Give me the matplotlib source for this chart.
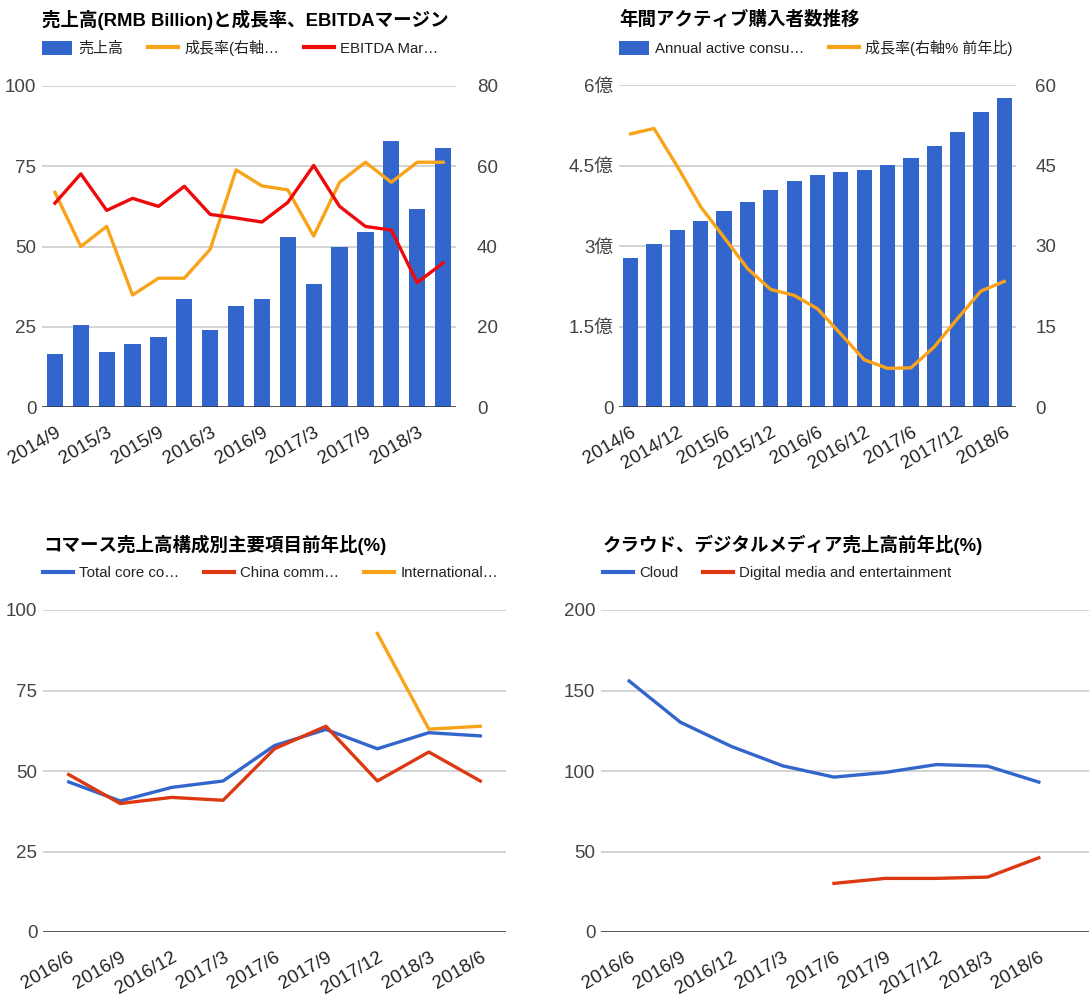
import matplotlib.pyplot as plt
from matplotlib.lines import Line2D
from matplotlib.patches import Patch
from matplotlib.ticker import FuncFormatter
import numpy as np

plt.rcParams['font.family'] = ['Liberation Sans', 'Noto Sans CJK JP']

BLUE = '#3366cc'
ORANGE = '#f9a31a'
RED = '#ee0a0a'
RED2 = '#dc3912'
GRID = '#cccccc'
TICK = '#444444'

# 売上高 / 成長率 / EBITDA margin
rev_quarters = ['2014/9', '2014/12', '2015/3', '2015/6', '2015/9', '2015/12', '2016/3', '2016/6',
                '2016/9', '2016/12', '2017/3', '2017/6', '2017/9', '2017/12', '2018/3', '2018/6']
revenue = [16.4, 25.7, 17.0, 19.7, 21.9, 33.8, 24.1, 31.6, 33.8, 52.9, 38.2, 49.7, 54.6, 82.9, 61.6, 80.8]
rev_growth = [53.5, 40.0, 45.0, 27.9, 32.1, 32.1, 39.3, 59.1, 55.1, 54.1, 42.6, 56.0, 61.0, 56.0, 61.0, 61.0]
ebitda_margin = [50.8, 58.1, 49.0, 52.0, 50.0, 55.0, 48.0, 47.1, 46.1, 51.0, 60.2, 50.0, 45.0, 44.1, 31.0, 35.9]

# annual active consumers (millions) and growth
acc_quarters = ['2014/6', '2014/9', '2014/12', '2015/3', '2015/6', '2015/9', '2015/12', '2016/3', '2016/6',
                '2016/9', '2016/12', '2017/3', '2017/6', '2017/9', '2017/12', '2018/3', '2018/6']
active_consumers = [278, 304, 330, 346, 366, 382, 405, 422, 432, 438, 442, 451, 464, 487, 513, 549, 575]
acc_growth = [50.9, 51.9, 44.8, 37.3, 31.6, 25.8, 21.9, 20.8, 18.3, 13.6, 8.8, 7.2, 7.3, 11.2, 16.5, 21.6, 23.4]

# segment YoY (%)
seg_quarters = ['2016/6', '2016/9', '2016/12', '2017/3', '2017/6', '2017/9', '2017/12', '2018/3', '2018/6']
core_commerce = [46.6, 40.7, 44.9, 46.9, 57.9, 62.9, 56.9, 61.9, 60.9]
china_commerce = [48.9, 39.9, 41.8, 40.9, 56.9, 63.9, 46.9, 55.9, 46.9]
intl_commerce = [np.nan] * 6 + [92.7, 63.0, 63.9]
cloud = [155.9, 130.3, 115.2, 103.2, 96.2, 99.1, 104.0, 103.0, 93.1]
digital_media = [np.nan] * 4 + [30.2, 33.3, 33.3, 34.1, 46.1]

W, H = 1092, 1007
fig = plt.figure(figsize=(W / 100, H / 100), dpi=100)


def px_axes(x0, y0, x1, y1):
    return fig.add_axes([x0 / W, 1 - y1 / H, (x1 - x0) / W, (y1 - y0) / H])


def style(ax, ticks, grid=True):
    ax.set_ylim(ticks[0], ticks[-1])
    ax.set_yticks(ticks)
    if grid:
        ax.grid(axis='y', color=GRID, lw=1.2)
        ax.axhline(0, color='#333333', lw=1.8, zorder=3)
    ax.set_axisbelow(True)
    for s in ax.spines.values():
        s.set_visible(False)
    ax.tick_params(length=0, labelsize=13.5, labelcolor=TICK)
    ax.tick_params(axis='y', pad=4)


def xlabels(ax, labels, step=1, xlim=None):
    idx = np.arange(len(labels))
    ax.set_xlim(xlim or (-0.5, len(labels) - 0.5))
    ax.set_xticks(idx[::step], labels[::step], rotation=30, ha='right', rotation_mode='anchor')
    ax.tick_params(axis='x', pad=12, labelcolor='#222222')


def header(x, y, title, handles, labels):
    fig.text(x / W, 1 - y / H, title, fontsize=13.3, fontweight='bold', va='center', ha='left')
    fig.legend(handles, labels, loc='center left', bbox_to_anchor=(x / W, 1 - (y + 28) / H),
               ncol=len(handles), frameon=False, fontsize=10.8, handlelength=2.0, handleheight=1.0,
               handletextpad=0.4, columnspacing=1.67, borderpad=0, borderaxespad=0, labelcolor='#222222')


def line(color):
    return Line2D([], [], color=color, lw=3)


# --- top left ---
ax1 = px_axes(42, 86, 456, 407)
x = np.arange(len(rev_quarters))
ax1.bar(x, revenue, width=0.63, color=BLUE, zorder=2)
style(ax1, [0, 25, 50, 75, 100])
xlabels(ax1, rev_quarters, 2)
ax1b = ax1.twinx()
ax1b.plot(x, rev_growth, color=ORANGE, lw=2.4)
ax1b.plot(x, ebitda_margin, color=RED, lw=2.4)
style(ax1b, [0, 20, 40, 60, 80], grid=False)
ax1b.tick_params(axis='y', pad=15)
header(42, 20, '売上高(RMB Billion)と成長率、EBITDAマージン',
       [Patch(facecolor=BLUE), line(ORANGE), line(RED)],
       ['売上高', '成長率(右軸…', 'EBITDA Mar…'])

# --- top right ---
ax2 = px_axes(619, 85, 1016, 407)
x = np.arange(len(acc_quarters))
ax2.bar(x, active_consumers, width=0.65, color=BLUE, zorder=2)
style(ax2, [0, 150, 300, 450, 600])
ax2.yaxis.set_major_formatter(FuncFormatter(lambda v, p: '0' if v == 0 else f'{v / 100:g}億'))
xlabels(ax2, acc_quarters, 2)
ax2b = ax2.twinx()
ax2b.plot(x, acc_growth, color=ORANGE, lw=2.4)
style(ax2b, [0, 15, 30, 45, 60], grid=False)
ax2b.tick_params(axis='y', pad=14)
header(619, 20, '年間アクティブ購入者数推移',
       [Patch(facecolor=BLUE), line(ORANGE)],
       ['Annual active consu…', '成長率(右軸% 前年比)'])

# --- bottom left ---
ax3 = px_axes(43, 610, 506, 932)
x = np.arange(len(seg_quarters))
ax3.plot(x, core_commerce, color=BLUE, lw=2.4)
ax3.plot(x, china_commerce, color=RED2, lw=2.4)
ax3.plot(x, intl_commerce, color=ORANGE, lw=2.4)
style(ax3, [0, 25, 50, 75, 100])
xlabels(ax3, seg_quarters)
header(43, 545, 'コマース売上高構成別主要項目前年比(%)',
       [line(BLUE), line(RED2), line(ORANGE)],
       ['Total core co…', 'China comm…', 'International…'])

# --- bottom right ---
ax4 = px_axes(601, 610, 1089, 932)
ax4.plot(x, cloud, color=BLUE, lw=2.4)
ax4.plot(x, digital_media, color=RED2, lw=2.4)
style(ax4, [0, 50, 100, 150, 200])
xlabels(ax4, seg_quarters, xlim=(-0.55, 8.98))
header(603, 545, 'クラウド、デジタルメディア売上高前年比(%)',
       [line(BLUE), line(RED2)],
       ['Cloud', 'Digital media and entertainment'])

fig.savefig('out.png', dpi=100)
